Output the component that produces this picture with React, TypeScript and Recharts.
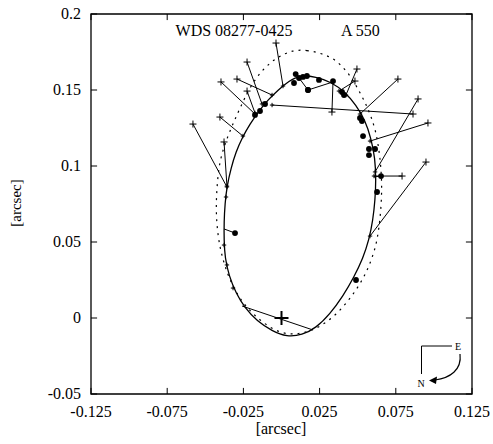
import React from 'react';
import {
  ComposedChart,
  Line,
  Scatter,
  XAxis,
  YAxis,
  ReferenceLine,
  ReferenceArea,
} from 'recharts';

const W = 493;
const H = 444;
const SERIF = '"Liberation Serif", "DejaVu Serif", serif';

const xTicks = [-0.125, -0.075, -0.025, 0.025, 0.075, 0.125];
const yTicks = [-0.05, 0, 0.05, 0.1, 0.15, 0.2];

// new orbit (solid), clockwise from the top
const orbitSolid: [number, number][] = [
  [0.0121, 0.1599], [0.0226, 0.1586], [0.0325, 0.1553], [0.0417, 0.1487],
  [0.0489, 0.1401], [0.0548, 0.1303], [0.0587, 0.1184], [0.0614, 0.1053],
  [0.062, 0.0908], [0.0614, 0.0776], [0.06, 0.0645], [0.0574, 0.0513],
  [0.0535, 0.0395], [0.0476, 0.027], [0.0404, 0.0145], [0.0318, 0.0026],
  [0.0226, -0.0066], [0.0135, -0.0112], [0.0036, -0.0125], [-0.0062, -0.0086],
  [-0.0161, -0.002], [-0.024, 0.0066], [-0.0299, 0.0164], [-0.0344, 0.0276],
  [-0.0371, 0.0395], [-0.0377, 0.0513], [-0.0377, 0.0632], [-0.0371, 0.075],
  [-0.0358, 0.0868], [-0.0331, 0.0987], [-0.0299, 0.1092], [-0.0259, 0.1184],
  [-0.0207, 0.1276], [-0.0148, 0.1362], [-0.0089, 0.1434], [-0.0023, 0.15],
  [0.0049, 0.1559],
];

// previous orbit (dotted)
const orbitDotted: [number, number][] = [
  [0.0075, 0.1763], [0.0167, 0.1763], [0.0253, 0.1743], [0.0338, 0.1711],
  [0.0404, 0.1651], [0.0456, 0.1586], [0.0502, 0.1507], [0.0548, 0.1421],
  [0.0587, 0.1329], [0.062, 0.1224], [0.064, 0.1105], [0.0653, 0.0987],
  [0.0659, 0.0855], [0.0653, 0.0724], [0.064, 0.0592], [0.062, 0.0474],
  [0.0581, 0.0355], [0.0528, 0.0243], [0.0449, 0.0125], [0.0358, 0.002],
  [0.0253, -0.0059], [0.0148, -0.0099], [0.0036, -0.0112], [-0.0075, -0.0066],
  [-0.0174, 0.0013], [-0.0259, 0.0105], [-0.0325, 0.0217], [-0.0371, 0.0336],
  [-0.0404, 0.0461], [-0.0423, 0.0592], [-0.043, 0.073], [-0.0423, 0.0868],
  [-0.041, 0.1007], [-0.0377, 0.1132], [-0.0325, 0.1263], [-0.0272, 0.1382],
  [-0.0207, 0.152], [-0.0128, 0.1632], [-0.003, 0.1717],
];

// visual measures: [obs x, obs y, orbit x, orbit y]
const crossObs: [number, number, number, number][] = [
  [-0.0036, 0.1809, 0.001, 0.1526],
  [-0.0226, 0.1684, -0.0128, 0.1408],
  [-0.0397, 0.1553, -0.0174, 0.1342],
  [-0.0292, 0.1572, -0.0062, 0.1467],
  [-0.0226, 0.1493, -0.0174, 0.1349],
  [-0.0404, 0.1322, -0.0253, 0.1197],
  [-0.0581, 0.1276, -0.0358, 0.0862],
  [-0.0377, 0.1158, -0.0358, 0.0868],
  [0.0495, 0.1638, 0.0423, 0.1467],
  [0.0482, 0.1559, 0.0377, 0.1493],
  [0.0331, 0.1355, 0.0338, 0.1553],
  [0.0863, 0.1342, -0.0062, 0.1401],
  [0.0961, 0.1283, 0.0581, 0.1164],
  [0.0896, 0.1441, 0.0614, 0.0961],
  [0.0948, 0.1026, 0.0581, 0.0539],
  [0.0791, 0.0934, 0.0607, 0.0934],
  [0.0764, 0.1572, 0.0515, 0.1342],
];

// speckle measures with visible residuals
const dotObs: [number, number, number, number][] = [
  [-0.0305, 0.0559, -0.0377, 0.0586],
  [0.0174, 0.15, 0.0115, 0.1579],
  [0.0174, 0.15, 0.0338, 0.1553],
  [0.0653, 0.0934, 0.0607, 0.0928],
];

// speckle measures lying on the orbit
const dotsOnOrbit: [number, number][] = [
  [0.0093, 0.1605], [0.0115, 0.1579], [0.0141, 0.1586], [0.0167, 0.1592],
  [0.0246, 0.1566], [0.0338, 0.1559], [0.0082, 0.1546], [0.0397, 0.1487],
  [0.041, 0.1467], [-0.0141, 0.1362], [-0.0108, 0.1408], [-0.0174, 0.1336],
  [0.0515, 0.1316], [0.0528, 0.1296], [0.0535, 0.1197], [0.0574, 0.1112],
  [0.0614, 0.1112], [0.0574, 0.1072], [0.0627, 0.0829], [0.0489, 0.025],
];

const extraOrbitTicks: [number, number][] = [
  [-0.0377, 0.048], [-0.0358, 0.0349], [-0.0318, 0.0197], [-0.0364, 0.0796],
];

const nodeLine: [number, number][] = [[-0.0259, 0.0079], [0.0207, -0.0079]];
const primary: [number, number][] = [[0, 0]];

const TICK = 0.004;

const pts = (arr: [number, number][]) => arr.map(([x, y]) => ({ x, y }));

function makeCross(s: number, w: number) {
  return function CrossShape(props: any) {
    const { cx, cy } = props;
    return (
      <g stroke="#000" strokeWidth={w}>
        <line x1={cx - s} y1={cy} x2={cx + s} y2={cy} />
        <line x1={cx} y1={cy - s} x2={cx} y2={cy + s} />
      </g>
    );
  };
}

const ObsCross = makeCross(3.5, 1);
const OrbitTick = makeCross(2.2, 1);
const BigPlus = makeCross(7, 2);

function DotShape(props: any) {
  return <circle cx={props.cx} cy={props.cy} r={2.9} fill="#000" />;
}

function XTick({ x, y, payload }: any) {
  return (
    <text x={x} y={y} dy={23} textAnchor="middle" fontFamily={SERIF} fontSize={16} fill="#000">
      {payload.value}
    </text>
  );
}

function YTick({ x, y, payload }: any) {
  return (
    <text x={x} y={y} dy={5} textAnchor="end" fontFamily={SERIF} fontSize={16} fill="#000">
      {payload.value}
    </text>
  );
}

export default function App() {
  const residuals = [...crossObs, ...dotObs];
  return (
    <div style={{ position: 'absolute', left: 0, top: 0, width: W, height: H, background: '#fff' }}>
      <ComposedChart width={W} height={H} margin={{ top: 14, right: 21, bottom: 20, left: 31 }}>
        <XAxis
          type="number"
          dataKey="x"
          domain={[-0.125, 0.125]}
          ticks={xTicks}
          allowDataOverflow
          axisLine={false}
          tickLine={false}
          tickSize={0}
          tickMargin={0}
          height={30}
          tick={<XTick />}
        />
        <YAxis
          type="number"
          dataKey="y"
          domain={[-0.05, 0.2]}
          ticks={yTicks}
          allowDataOverflow
          axisLine={false}
          tickLine={false}
          tickSize={0}
          tickMargin={10}
          width={60}
          tick={<YTick />}
        />
        <ReferenceArea
          x1={-0.125}
          x2={0.125}
          y1={-0.05}
          y2={0.2}
          ifOverflow="visible"
          fill="none"
          fillOpacity={0}
          stroke="#000"
          strokeWidth={1.3}
        />
        {xTicks.map((t) => (
          <ReferenceLine key={'xb' + t} segment={[{ x: t, y: -0.05 }, { x: t, y: -0.05 + TICK }]} stroke="#000" ifOverflow="visible" />
        ))}
        {xTicks.map((t) => (
          <ReferenceLine key={'xt' + t} segment={[{ x: t, y: 0.2 }, { x: t, y: 0.2 - TICK }]} stroke="#000" ifOverflow="visible" />
        ))}
        {yTicks.map((t) => (
          <ReferenceLine key={'yl' + t} segment={[{ x: -0.125, y: t }, { x: -0.125 + TICK, y: t }]} stroke="#000" ifOverflow="visible" />
        ))}
        {yTicks.map((t) => (
          <ReferenceLine key={'yr' + t} segment={[{ x: 0.125, y: t }, { x: 0.125 - TICK, y: t }]} stroke="#000" ifOverflow="visible" />
        ))}

        <Line
          data={pts(orbitDotted)}
          dataKey="y"
          type="basisClosed"
          stroke="#000"
          strokeWidth={1.2}
          strokeDasharray="2 5"
          dot={false}
          activeDot={false}
          isAnimationActive={false}
        />
        <Line
          data={pts(orbitSolid)}
          dataKey="y"
          type="basisClosed"
          stroke="#000"
          strokeWidth={1.3}
          dot={false}
          activeDot={false}
          isAnimationActive={false}
        />
        <Line
          data={pts(nodeLine)}
          dataKey="y"
          type="linear"
          stroke="#000"
          strokeWidth={1}
          dot={false}
          activeDot={false}
          isAnimationActive={false}
        />
        {residuals.map(([ox, oy, cx, cy], i) => (
          <Line
            key={'r' + i}
            data={[{ x: ox, y: oy }, { x: cx, y: cy }]}
            dataKey="y"
            type="linear"
            stroke="#000"
            strokeWidth={1}
            dot={false}
            activeDot={false}
            isAnimationActive={false}
          />
        ))}
        <Scatter
          data={crossObs.map(([x, y]) => ({ x, y }))}
          shape={ObsCross}
          isAnimationActive={false}
        />
        <Scatter
          data={[...crossObs.map(([, , x, y]) => ({ x, y })), ...pts(extraOrbitTicks)]}
          shape={OrbitTick}
          isAnimationActive={false}
        />
        <Scatter
          data={[...dotObs.map(([x, y]) => ({ x, y })), ...pts(dotsOnOrbit)]}
          shape={DotShape}
          isAnimationActive={false}
        />
        <Scatter data={pts(primary)} shape={BigPlus} isAnimationActive={false} />
      </ComposedChart>

      <svg
        width={W}
        height={H}
        style={{ position: 'absolute', left: 0, top: 0, pointerEvents: 'none' }}
        fontFamily={SERIF}
      >
        <text x={234} y={36} textAnchor="middle" fontSize={16}>WDS 08277-0425</text>
        <text x={341} y={36} fontSize={16}>A 550</text>
        <text x={281} y={434} textAnchor="middle" fontSize={16}>[arcsec]</text>
        <text x={16} y={203} dy={5} textAnchor="middle" fontSize={15} transform="rotate(-90 16 203)">
          [arcsec]
        </text>
        <polyline points="452,346 421.5,346 421.5,374" fill="none" stroke="#000" strokeWidth={1} />
        <text x={458} y={350} textAnchor="middle" fontSize={10}>E</text>
        <text x={421} y={387} textAnchor="middle" fontSize={10}>N</text>
        <path d="M460,354 C462,370 450,378 435,380" fill="none" stroke="#000" strokeWidth={1.2} />
        <polygon points="429,380.5 437,376.5 436,384" fill="#000" />
      </svg>
    </div>
  );
}
